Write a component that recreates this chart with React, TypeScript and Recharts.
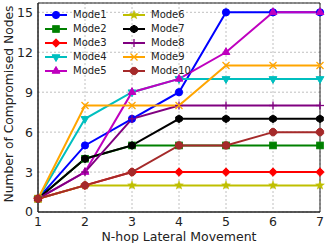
import React from 'react';
import { LineChart, Line, XAxis, YAxis, CartesianGrid, Legend, ReferenceArea } from 'recharts';

const hops = [1, 2, 3, 4, 5, 6, 7];
const mode1 = [1, 5, 7, 9, 15, 15, 15];
const mode2 = [1, 4, 5, 5, 5, 5, 5];
const mode3 = [1, 2, 3, 3, 3, 3, 3];
const mode4 = [1, 7, 9, 10, 10, 10, 10];
const mode5 = [1, 3, 9, 10, 12, 15, 15];
const mode6 = [1, 2, 2, 2, 2, 2, 2];
const mode7 = [1, 4, 5, 7, 7, 7, 7];
const mode8 = [1, 3, 7, 8, 8, 8, 8];
const mode9 = [1, 8, 8, 8, 11, 11, 11];
const mode10 = [1, 2, 3, 5, 5, 6, 6];

const xTicks = [1, 2, 3, 4, 5, 6, 7];
const yTicks = [0, 3, 6, 9, 12, 15];

const SERIES = [
    { name: 'Mode1', values: mode1, color: '#0000ff', shape: 'circle' },
    { name: 'Mode2', values: mode2, color: '#008000', shape: 'square' },
    { name: 'Mode3', values: mode3, color: '#ff0000', shape: 'diamond' },
    { name: 'Mode4', values: mode4, color: '#00bfbf', shape: 'triDown' },
    { name: 'Mode5', values: mode5, color: '#bf00bf', shape: 'triUp' },
    { name: 'Mode6', values: mode6, color: '#bfbf00', shape: 'star' },
    { name: 'Mode7', values: mode7, color: '#000000', shape: 'hexagon' },
    { name: 'Mode8', values: mode8, color: '#800080', shape: 'plus' },
    { name: 'Mode9', values: mode9, color: '#ffa500', shape: 'cross' },
    { name: 'Mode10', values: mode10, color: '#a52a2a', shape: 'octagon' },
];

const rows = hops.map((h, i) => {
    const row: any = { hop: h };
    SERIES.forEach(s => { row[s.name] = s.values[i]; });
    return row;
});

const FONT = 'DejaVu Sans, sans-serif';

const polygon = (cx: number, cy: number, r: number, n: number, rot: number) => {
    const pts: string[] = [];
    for (let k = 0; k < n; k++) {
        const a = rot + (k * 2 * Math.PI) / n;
        pts.push(`${cx + r * Math.cos(a)},${cy + r * Math.sin(a)}`);
    }
    return pts.join(' ');
};

const Marker = ({ cx, cy, shape, color }: any) => {
    if (cx == null || cy == null) return null;
    switch (shape) {
        case 'circle':
            return <circle cx={cx} cy={cy} r={3.6} fill={color} stroke={color} />;
        case 'square':
            return <rect x={cx - 3.3} y={cy - 3.3} width={6.6} height={6.6} fill={color} stroke={color} />;
        case 'diamond':
            return <polygon points={polygon(cx, cy, 4.2, 4, 0)} fill={color} stroke={color} />;
        case 'triDown':
            return <polygon points={polygon(cx, cy, 4.5, 3, Math.PI / 2)} fill={color} stroke={color} />;
        case 'triUp':
            return <polygon points={polygon(cx, cy, 4.5, 3, -Math.PI / 2)} fill={color} stroke={color} />;
        case 'star': {
            const pts: string[] = [];
            for (let k = 0; k < 10; k++) {
                const r = k % 2 === 0 ? 4.6 : 1.9;
                const a = -Math.PI / 2 + (k * Math.PI) / 5;
                pts.push(`${cx + r * Math.cos(a)},${cy + r * Math.sin(a)}`);
            }
            return <polygon points={pts.join(' ')} fill={color} stroke={color} strokeWidth={0.5} />;
        }
        case 'hexagon':
            return <polygon points={polygon(cx, cy, 3.8, 6, -Math.PI / 2)} fill={color} stroke={color} />;
        case 'octagon':
            return <polygon points={polygon(cx, cy, 3.9, 8, Math.PI / 8)} fill={color} stroke={color} />;
        case 'plus':
            return (
                <g stroke={color} strokeWidth={1.3}>
                    <line x1={cx - 4} y1={cy} x2={cx + 4} y2={cy} />
                    <line x1={cx} y1={cy - 4} x2={cx} y2={cy + 4} />
                </g>
            );
        case 'cross':
            return (
                <g stroke={color} strokeWidth={1.3}>
                    <line x1={cx - 3.5} y1={cy - 3.5} x2={cx + 3.5} y2={cy + 3.5} />
                    <line x1={cx - 3.5} y1={cy + 3.5} x2={cx + 3.5} y2={cy - 3.5} />
                </g>
            );
        default:
            return null;
    }
};

const LegendBox = () => (
    <div style={{ display: 'grid', gridTemplateColumns: '78px 78px', gridAutoFlow: 'column', gridTemplateRows: 'repeat(5, 14px)', fontFamily: FONT, fontSize: 10 }}>
        {SERIES.map(s => (
            <div key={s.name} style={{ display: 'flex', alignItems: 'center', height: 14 }}>
                <svg width={28} height={14} style={{ flex: 'none' }}>
                    <line x1={0} y1={7} x2={22} y2={7} stroke={s.color} strokeWidth={2} />
                    <Marker cx={11} cy={7} shape={s.shape} color={s.color} />
                </svg>
                <span style={{ color: '#222', lineHeight: '14px' }}>{s.name}</span>
            </div>
        ))}
    </div>
);

const YLabel = () => (
    <text x={9} y={104} transform="rotate(-90, 9, 104)" textAnchor="middle" dominantBaseline="central"
        fontFamily={FONT} fontSize={12.3} fill="#222">
        Number of Compromised Nodes
    </text>
);

const XLabel = () => (
    <text x={179} y={236} textAnchor="middle" dominantBaseline="central" fontFamily={FONT} fontSize={12.5} fill="#222">
        N-hop Lateral Movement
    </text>
);

const App: React.FC = () => {
    return (
        <div style={{ position: 'absolute', left: 0, top: 0, width: 327, height: 243, background: '#fff' }}>
            <LineChart width={327} height={243} data={rows} margin={{ top: 3, right: 7, left: 0, bottom: 0 }}>
                <CartesianGrid stroke="#b0b0b0" strokeDasharray="2 2" strokeWidth={0.8} />
                <XAxis dataKey="hop" type="number" domain={[1, 7]} ticks={xTicks} height={31}
                    stroke="#222" tickLine={false} tickSize={4} tickMargin={1}
                    tick={{ fontFamily: FONT, fontSize: 12.5, fill: '#222' }} label={<XLabel />} />
                <YAxis type="number" domain={[0, 15.7]} ticks={yTicks} width={38} allowDataOverflow
                    stroke="#222" tickLine={false} tickSize={4} tickMargin={1}
                    tick={{ fontFamily: FONT, fontSize: 12.5, fill: '#222' }} label={<YLabel />} />
                <ReferenceArea x1={1} x2={7} y1={0} y2={15.7} fill="none" stroke="#222" strokeWidth={1} ifOverflow="visible" />
                {SERIES.map(s => (
                    <Line key={s.name} dataKey={s.name} stroke={s.color} strokeWidth={2} type="linear"
                        isAnimationActive={false}
                        dot={(p: any) => <Marker key={`${s.name}-${p.index}`} cx={p.cx} cy={p.cy} shape={s.shape} color={s.color} />}
                        activeDot={false} />
                ))}
                <Legend layout="vertical" align="center" verticalAlign="middle" content={<LegendBox />}
                    wrapperStyle={{ left: 45, top: 8, width: 160, height: 70 }} />
            </LineChart>
        </div>
    );
};

export default App;
